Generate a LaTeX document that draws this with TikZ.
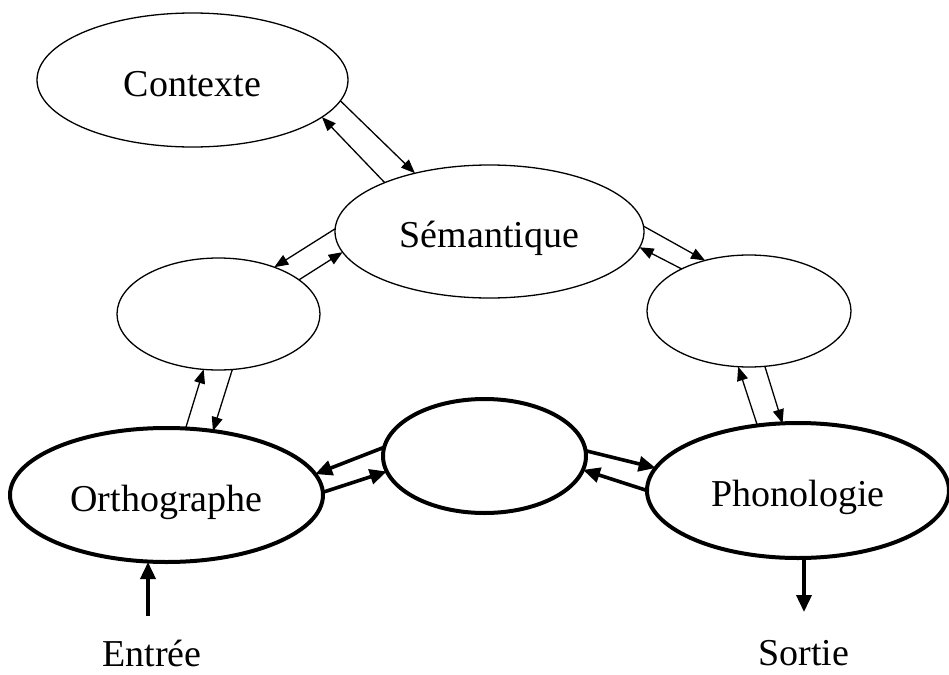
\documentclass[tikz,border=0pt]{standalone}
\usepackage{fontspec}
\setmainfont{Liberation Serif}
\usetikzlibrary{shapes.geometric,arrows.meta}
\begin{document}
\begin{tikzpicture}[x=0.5pt,y=-0.5pt,
  every node/.style={font=\fontsize{19}{22}\selectfont},
  ell/.style={ellipse,draw,inner sep=0pt,outer sep=0pt,text height=16pt,text depth=0pt},
  thinell/.style={ell,line width=0.65pt},
  thickell/.style={ell,line width=2pt},
  thinarr/.style={line width=0.65pt,-{Triangle[length=7pt,width=5.5pt]}},
  thickarr/.style={line width=1.8pt,-{Triangle[length=8.5pt,width=7.5pt]}},
  lbl/.style={anchor=base,inner sep=0pt}]
\useasboundingbox (0,0) rectangle (949,675);
\node[thinell,minimum width=155.5pt,minimum height=67pt] (C) at (192.5,80) {Contexte};
\node[thinell,minimum width=154.5pt,minimum height=66.5pt] (S) at (489.5,231.5) {Sémantique};
\node[thinell,minimum width=101.5pt,minimum height=56pt] (L) at (218.5,314) {};
\node[thinell,minimum width=102pt,minimum height=56pt] (R) at (749,311) {};
\node[thickell,minimum width=156.5pt,minimum height=67pt] (O) at (166.5,495) {Orthographe};
\node[thickell,minimum width=101.5pt,minimum height=57pt] (M) at (484.5,456) {};
\node[thickell,minimum width=151pt,minimum height=67.5pt] (P) at (798,490.5) {Phonologie};
% Contexte <-> Semantique
\draw[thinarr] (S.155.5) -- (C.344);
\draw[thinarr] (C.352.8) -- (S.142.6);
% Semantique <-> left
\draw[thinarr] (S.179.4) -- (L.40.2);
\draw[thinarr] (L.23.8) -- (S.188);
% Semantique <-> right
\draw[thinarr] (S.2.8) -- (R.131.4);
\draw[thinarr] (R.148.7) -- (S.354.5);
% right <-> Phonologie
\draw[thinarr] (P.122.4) -- (R.259.1);
\draw[thinarr] (R.286) -- (P.103.7);
% left <-> Orthographe
\draw[thinarr] (O.74.8) -- (L.255);
\draw[thinarr] (L.284.5) -- (O.54.6);
% middle <-> Orthographe / Phonologie
\draw[thickarr] (M.175.5) -- (O.8.5);
\draw[thickarr] (O.1.1) -- (M.189.1);
\draw[thickarr] (M.3.9) -- (P.171.7);
\draw[thickarr] (P.180) -- (M.352.1);
% input / output
\coordinate (in) at (148,616);
\coordinate (out) at (804,612);
\draw[thickarr] (in) -- (in |- O.south);
\draw[thickarr] (out |- P.south) -- (out);
\node[lbl] (entree) at (152,666) {Entrée};
\node[lbl] (sortie) at (804,665) {Sortie};
\end{tikzpicture}
\end{document}
